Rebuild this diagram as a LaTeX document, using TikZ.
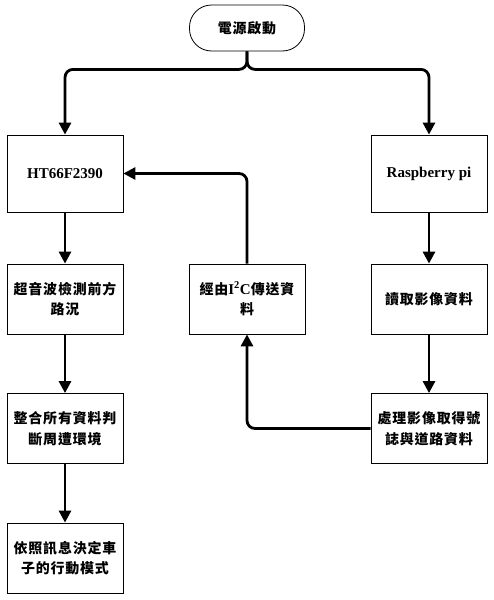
\documentclass[tikz,border=0pt]{standalone}
\usepackage{fontspec}
\setmainfont{Liberation Serif}
\newfontfamily\cjk{Noto Sans CJK TC}[Scale=0.93, LetterSpace=6]
\usetikzlibrary{arrows.meta}
\tikzset{
  box/.style={draw, line width=0.8pt, minimum width=116pt, minimum height=70pt, align=center, font=\fontsize{15}{20.5}\selectfont\bfseries},
  term/.style={box, minimum width=115pt, minimum height=46pt, rounded corners=22pt},
  flow/.style={line width=2.8pt, rounded corners=8pt, -{Triangle[width=12pt,length=12pt]}},
}
\begin{document}
\begin{tikzpicture}[x=1pt,y=-1pt]
\useasboundingbox (0,0) rectangle (493,600);
\node[term] (start) at (247,28) {\cjk 電源啟動};
\node[box, minimum height=77pt] (ht) at (65,173.5) {HT66F2390};
\node[box, minimum height=77pt] (rpi) at (429,173.5) {Raspberry pi};
\node[box] (sonic) at (65,299) {\cjk 超音波檢測前方\\ \cjk 路況};
\node[box] (merge) at (65,428.5) {\cjk 整合所有資料判\\ \cjk 斷周遭環境};
\node[box] (decide) at (65,558) {\cjk 依照訊息決定車\\ \cjk 子的行動模式};
\node[box] (i2c) at (247,299) {{\cjk 經由}I\textsuperscript{2}C{\cjk 傳送資}\\ {\cjk 料}};
\node[box] (read) at (429,299) {\cjk 讀取影像資料};
\node[box] (proc) at (429,428.5) {\cjk 處理影像取得號\\ \cjk 誌與道路資料};
\draw[flow] (start.south) -- ++(0,18) -| (ht.north);
\draw[flow] (start.south) -- ++(0,18) -| (rpi.north);
\draw[flow] (ht.south) -- (sonic.north);
\draw[flow] (sonic.south) -- (merge.north);
\draw[flow] (merge.south) -- (decide.north);
\draw[flow] (rpi.south) -- (read.north);
\draw[flow] (read.south) -- (proc.north);
\draw[flow] (proc.west) -| (i2c.south);
\draw[flow] (i2c.north) |- (ht.east);
\end{tikzpicture}
\end{document}
